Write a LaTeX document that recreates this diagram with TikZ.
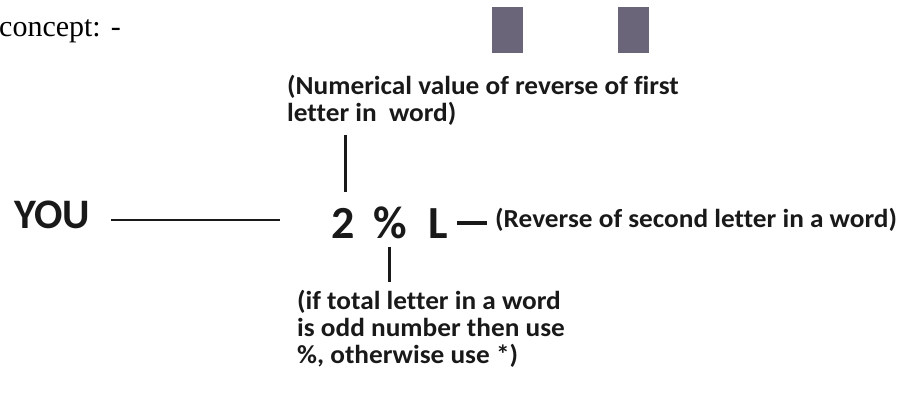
\documentclass[tikz,border=0pt]{standalone}
\usepackage{fontspec}
\setmainfont{Liberation Serif}
\setsansfont{Carlito}
\newfontfamily\notefont{Carlito}[FakeStretch=1.05, Ligatures=NoCommon]
\usetikzlibrary{positioning}

\definecolor{barfill}{RGB}{106,101,120}
\definecolor{ink}{RGB}{25,25,25}

\begin{document}
\begin{tikzpicture}[x=1pt, y=-1pt,
        note/.style={inner sep=0pt, align=left, text=ink, font=\notefont\bfseries\fontsize{26}{27}\selectfont},
        big/.style={inner sep=0pt, text=ink, font=\sffamily\bfseries\fontsize{46}{50}\selectfont},
        bar/.style={draw=none, fill=barfill, minimum width=31pt, minimum height=46pt, inner sep=0pt},
        link/.style={draw=ink, line width=2.6pt}
    ]
    \useasboundingbox (0,0) rectangle (902,394);

    \node[anchor=base west, inner sep=0pt, font=\fontsize{30}{34}\selectfont] (head) at (-1,36) {concept: -};
    \node[bar] (bar1) at (507.5,30) {};
    \node[bar] (bar2) at (633.5,30) {};

    \node[big, anchor=base west, font=\sffamily\bfseries\fontsize{42}{44}\selectfont] (you) at (14,228) {YOU};
    \node[big, anchor=base west] (num) at (331,238) {2};
    \node[big, anchor=base west] (pct) at (373,238) {\%};
    \node[big, anchor=base west] (lett) at (428,238) {L};

    \node[note, anchor=north west] (topnote) at (287,75) {(Numerical value of reverse of first\\letter in\ \ word)};
    \node[note, anchor=base west] (sidenote) at (495,227) {(Reverse of second letter in a word)};
    \node[note, anchor=north west] (lownote) at (297,290) {(if total letter in a word\\is odd number then use\\\%, otherwise use *)};

    \draw[link, shorten <=21pt, shorten >=51pt] ([yshift=-5.5pt]you.east) -- ([yshift=-5.5pt]you.east -| num.west);
    \draw[link, line width=3pt, shorten <=16pt, shorten >=9pt] ([xshift=3pt]num.north) -- ([xshift=3pt]num.north |- topnote.south);
    \draw[link, line width=3pt, shorten <=8pt, shorten >=8pt] (pct.south) -- (pct.south |- lownote.north);
    \draw[link, line width=4.5pt, shorten <=9pt, shorten >=8pt] (lett.east) -- (lett.east -| sidenote.west);
\end{tikzpicture}
\end{document}
